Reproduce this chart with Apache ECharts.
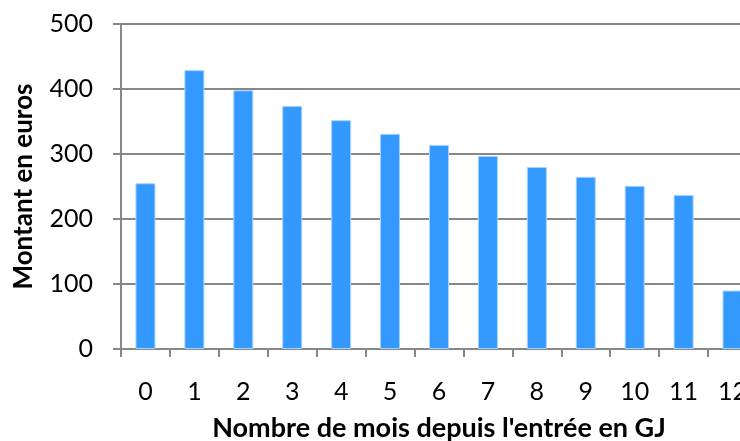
<!DOCTYPE html>
<html>
<head>
<meta charset="utf-8">
<script src="https://cdn.jsdelivr.net/npm/echarts@6/dist/echarts.min.js"></script>
<style>
html,body{margin:0;padding:0;background:#fff}
#chart{width:740px;height:441px}
</style>
</head>
<body>
<div id="chart"></div>
<script>
var months = ['0','1','2','3','4','5','6','7','8','9','10','11','12']
var amounts = [255, 429, 398, 374, 352, 331, 314, 297, 280, 265, 251, 237, 90]
var yTicks = {min: 0, max: 500, interval: 100}

var font = 'Lato, "Open Sans", sans-serif'

var chart = echarts.init(document.getElementById('chart'))
var option = {
    animation: false,
    grid: {
        left: 121,
        top: 24,
        width: 636,
        height: 325,
        containLabel: false,
        outerBoundsMode: 'none'
    },
    xAxis: {
        type: 'category',
        data: months,
        name: "Nombre de mois depuis l'entrée en GJ",
        nameLocation: 'middle',
        nameGap: 66,
        nameTextStyle: {fontFamily: font, fontSize: 27, fontWeight: 'bold', color: '#000'},
        axisLine: {lineStyle: {color: '#878787', width: 2}},
        axisTick: {show: true, length: 8, lineStyle: {color: '#878787', width: 2}},
        axisLabel: {fontFamily: font, fontSize: 25, color: '#000', margin: 30}
    },
    yAxis: {
        type: 'value',
        min: yTicks.min,
        max: yTicks.max,
        interval: yTicks.interval,
        name: 'Montant en euros',
        nameLocation: 'middle',
        nameGap: 84,
        nameTextStyle: {fontFamily: font, fontSize: 26, fontWeight: 'bold', color: '#000'},
        axisLine: {show: true, lineStyle: {color: '#878787', width: 2}},
        axisTick: {show: true, length: 8, lineStyle: {color: '#878787', width: 2}},
        axisLabel: {fontFamily: font, fontSize: 25, color: '#000', margin: 28},
        splitLine: {lineStyle: {color: '#878787', width: 2}}
    },
    series: [{
        type: 'bar',
        data: amounts,
        barWidth: 20,
        itemStyle: {color: '#3399ff', borderColor: '#a8d2ff', borderWidth: 1}
    }]
}
chart.setOption(option)
</script>
</body>
</html>
